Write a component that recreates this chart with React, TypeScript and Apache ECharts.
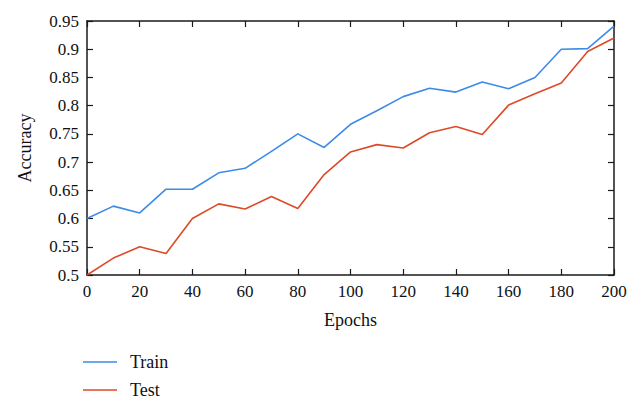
import React, { useEffect, useRef } from "react";
import * as echarts from "echarts";

const epochs = [0, 10, 20, 30, 40, 50, 60, 70, 80, 90, 100, 110, 120, 130, 140, 150, 160, 170, 180, 190, 200];
const trainAcc = [0.600, 0.622, 0.610, 0.652, 0.652, 0.681, 0.689, 0.719, 0.750, 0.726, 0.767, 0.791, 0.816, 0.831, 0.824, 0.842, 0.830, 0.850, 0.900, 0.901, 0.941];
const testAcc = [0.500, 0.530, 0.550, 0.538, 0.600, 0.626, 0.617, 0.639, 0.618, 0.678, 0.718, 0.731, 0.725, 0.752, 0.763, 0.749, 0.801, 0.821, 0.840, 0.896, 0.920];

const FONT = "'Liberation Serif', 'DejaVu Serif', serif";
const AXIS_COLOR = "#1a1a1a";
const TRAIN_COLOR = "#3d8be8";
const TEST_COLOR = "#dd4a26";

export default function App() {
  const ref = useRef<HTMLDivElement>(null);
  useEffect(() => {
    if (!ref.current) return;
    const chart = echarts.init(ref.current, null, { renderer: "svg" });
    const trainData = epochs.map((e, i) => [e, trainAcc[i]]);
    const testData = epochs.map((e, i) => [e, testAcc[i]]);
    const xCommon = {
      type: "value" as const,
      min: 0,
      max: 200,
      interval: 20,
      splitLine: { show: false },
      axisLine: { show: true, onZero: false, lineStyle: { color: AXIS_COLOR, width: 1.5 } },
      axisTick: { show: true, inside: true, length: 6, lineStyle: { color: AXIS_COLOR, width: 1.2 } },
    };
    const yCommon = {
      type: "value" as const,
      min: 0.5,
      max: 0.95,
      interval: 0.05,
      splitLine: { show: false },
      axisLine: { show: true, onZero: false, lineStyle: { color: AXIS_COLOR, width: 1.5 } },
      axisTick: { show: true, inside: true, length: 6, lineStyle: { color: AXIS_COLOR, width: 1.2 } },
    };
    chart.setOption({
      animation: false,
      backgroundColor: "#ffffff",
      textStyle: { fontFamily: FONT },
      grid: { left: 87, right: 26, top: 21, bottom: 132, containLabel: false },
      xAxis: [
        {
          ...xCommon,
          position: "bottom",
          name: "Epochs",
          nameLocation: "middle",
          nameGap: 36,
          nameTextStyle: { fontFamily: FONT, fontSize: 18, color: "#111" },
          axisLabel: { fontFamily: FONT, fontSize: 17, color: "#111", margin: 8 },
        },
        { ...xCommon, position: "top", axisLabel: { show: false } },
      ],
      yAxis: [
        {
          ...yCommon,
          position: "left",
          name: "Accuracy",
          nameLocation: "middle",
          nameGap: 53,
          nameTextStyle: { fontFamily: FONT, fontSize: 18, color: "#111" },
          axisLabel: {
            fontFamily: FONT,
            fontSize: 17,
            color: "#111",
            margin: 8,
            formatter: (v: number) => String(Math.round(v * 100) / 100),
          },
        },
        { ...yCommon, position: "right", axisLabel: { show: false } },
      ],
      legend: {
        orient: "vertical",
        left: 78,
        top: 348,
        icon: "rect",
        itemWidth: 34,
        itemHeight: 1.6,
        itemGap: 10,
        textStyle: { fontFamily: FONT, fontSize: 18, color: "#111", padding: [0, 0, 0, 8] },
        data: ["Train", "Test"],
      },
      series: [
        {
          name: "Train",
          type: "line",
          data: trainData,
          symbol: "none",
          lineStyle: { color: TRAIN_COLOR, width: 1.6 },
          itemStyle: { color: TRAIN_COLOR },
        },
        {
          name: "Test",
          type: "line",
          data: testData,
          symbol: "none",
          lineStyle: { color: TEST_COLOR, width: 1.6 },
          itemStyle: { color: TEST_COLOR },
        },
      ],
    });
    return () => chart.dispose();
  }, []);
  return <div ref={ref} style={{ width: 640, height: 407, position: "absolute", left: 0, top: 0 }} />;
}
